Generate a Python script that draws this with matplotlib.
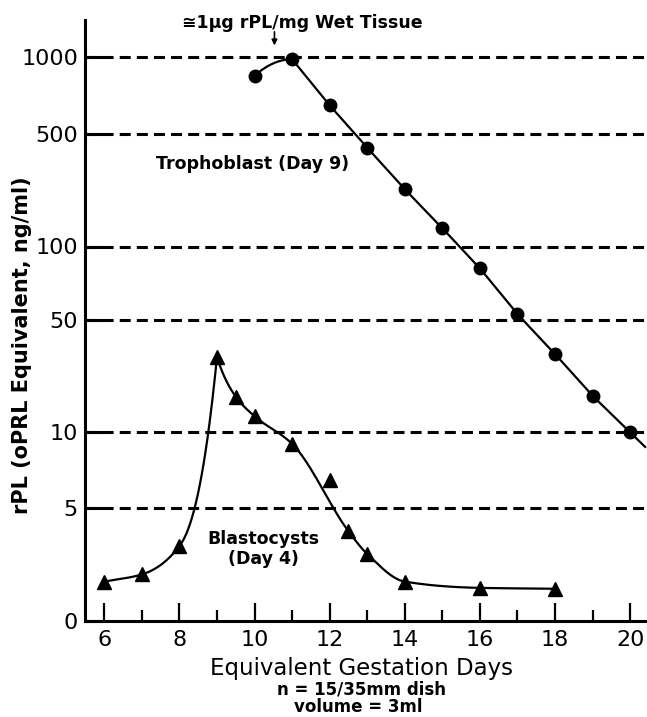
import numpy as np
import matplotlib.pyplot as plt

plt.rcParams['font.family'] = ['DejaVu Sans']

# trophoblast (day 9) - circles
troph_days = [10, 11, 12, 13, 14, 15, 16, 17, 18, 19, 20]
troph_vals = [845, 980, 647, 411, 227, 130, 81.5, 53, 30.8, 16.9, 10]

# blastocysts (day 4) - triangles
blast_days = [6, 7, 8, 9, 9.5, 10, 11, 12, 12.5, 13, 14, 16, 18]
blast_vals = [1.75, 1.94, 2.91, 29.5, 16.7, 12.6, 9.0, 6.5, 3.6, 2.6, 1.75, 1.6, 1.58]
blast_on_curve = [True]*7 + [False] + [True]*5

ytick_vals = [1, 5, 10, 50, 100, 500, 1000]
ytick_labels = ['0', '5', '10', '50', '100', '500', '1000']
grid_vals = [5, 10, 50, 100, 500, 1000]

# the printed axis is not a true log axis; spacing between ticks
LOGS = np.log10([1e-3, 1, 5, 10, 50, 100, 500, 1000, 2000, 1e6])
POS = np.array([-564, 0, 112.4, 188.4, 300.4, 374.2, 486.7, 563.7, 640.7, 1127.7])


def fwd(v):
    v = np.asarray(v, dtype=float)
    return np.interp(np.log10(np.clip(v, 1e-12, None)), LOGS, POS)


def inv(p):
    return 10**np.interp(np.asarray(p, dtype=float), POS, LOGS)


def slopes(xk, pk):
    h = np.diff(xk)
    d = np.diff(pk)/h
    m = np.zeros(len(xk))
    m[0], m[-1] = d[0], d[-1]
    for k in range(1, len(xk)-1):
        if d[k-1]*d[k] > 0:
            w1 = 2*h[k] + h[k-1]
            w2 = h[k] + 2*h[k-1]
            m[k] = (w1+w2)/(w1/d[k-1] + w2/d[k])
    return m, d


def hermite(xk, pk, m_out, m_in, n=40):
    xs, ps = [], []
    t = np.linspace(0, 1, n)
    for i in range(len(xk)-1):
        h = xk[i+1]-xk[i]
        p = ((2*t**3 - 3*t**2 + 1)*pk[i] + (t**3 - 2*t**2 + t)*h*m_out[i]
             + (-2*t**3 + 3*t**2)*pk[i+1] + (t**3 - t**2)*h*m_in[i+1])
        xs.append(xk[i] + h*t)
        ps.append(p)
    return np.concatenate(xs), np.concatenate(ps)


fig = plt.figure(figsize=(6.47, 7.17), dpi=100)
ax = fig.add_axes([85/647, 96.3/717, 1-85/647, 600.7/717])
ax.set_yscale('function', functions=(fwd, inv))
ax.set_ylim(1, float(inv(600.7)))
ax.set_xlim(5.486, 20.45)

for g in grid_vals:
    ax.axhline(g, color='black', lw=2.2, dashes=(3.6, 2.0), zorder=1)

# trophoblast line: small arc 10->11 then straight, running a little past day 20
tx = np.array(troph_days, float)
tp = fwd(troph_vals)
td = np.diff(tp)/np.diff(tx)
m_out = np.append(td, td[-1])
m_in = np.insert(td, 0, td[0])
m_out[0] = 2*td[0]
m_in[1] = 0
cx, cp = hermite(tx, tp, m_out, m_in)
cx = np.append(cx, tx[-1] + 0.4)
cp = np.append(cp, tp[-1] + 0.4*td[-1])
ax.plot(cx, inv(cp), color='black', lw=1.6, zorder=2)
ax.plot(troph_days, troph_vals, 'o', color='black', ms=9, zorder=3)

# blastocyst curve (hand drawn, sharp peak at day 9)
sel = np.array(blast_on_curve)
bx = np.array(blast_days, float)[sel]
bp = fwd(np.array(blast_vals)[sel])
m, d = slopes(bx, bp)
k = int(np.argmax(bp))
m_in = m.copy()
m_out = m.copy()
m_in[k] = 2.0*d[k-1]
m_out[k] = 1.5*d[k]
cx, cp = hermite(bx, bp, m_out, m_in)
ax.plot(cx, inv(cp), color='black', lw=1.6, zorder=2)
ax.plot(blast_days, blast_vals, '^', color='black', ms=10, zorder=3)

ax.spines['top'].set_visible(False)
ax.spines['right'].set_visible(False)
ax.spines['left'].set_linewidth(2.2)
ax.spines['bottom'].set_linewidth(2.2)

ax.set_yticks(ytick_vals)
ax.set_yticklabels(ytick_labels)
ax.yaxis.set_minor_locator(plt.NullLocator())
ax.set_xticks(range(6, 21, 2))
ax.set_xticks(range(7, 20, 2), minor=True)
ax.tick_params(axis='y', direction='in', length=13, width=2.2, pad=5, labelsize=16)
ax.tick_params(axis='x', which='major', direction='in', length=13, width=1.6, pad=7, labelsize=16)
ax.tick_params(axis='x', which='minor', direction='in', length=8, width=1.6)

ax.text(9.96, 326, 'Trophoblast (Day 9)', ha='center', va='center', fontsize=12.5, fontweight='bold')
ax.text(10.24, 2.79, 'Blastocysts\n(Day 4)', ha='center', va='center', fontsize=12.5,
        fontweight='bold', linespacing=1.1)

fig.text(0.4676, 0.968, '\u22451\u00b5g rPL/mg Wet Tissue', ha='center', va='center',
         fontsize=12.5, fontweight='bold')
ax.annotate('', xy=(10.53, 0.953), xytext=(10.53, 0.985), xycoords=('data', 'axes fraction'),
            arrowprops=dict(arrowstyle='-|>', color='black', lw=1.2, mutation_scale=8))

fig.text(0.034, 0.519, 'rPL (oPRL Equivalent, ng/ml)', rotation=90, ha='center', va='center',
         fontsize=15, fontweight='bold')
fig.text(0.5595, 0.067, 'Equivalent Gestation Days', ha='center', va='center', fontsize=16.5)
fig.text(0.5595, 0.039, 'n = 15/35mm dish', ha='center', va='center', fontsize=12, fontweight='bold')
fig.text(0.553, 0.014, 'volume = 3ml', ha='center', va='center', fontsize=12, fontweight='bold')

fig.savefig('out.png', dpi=100)
